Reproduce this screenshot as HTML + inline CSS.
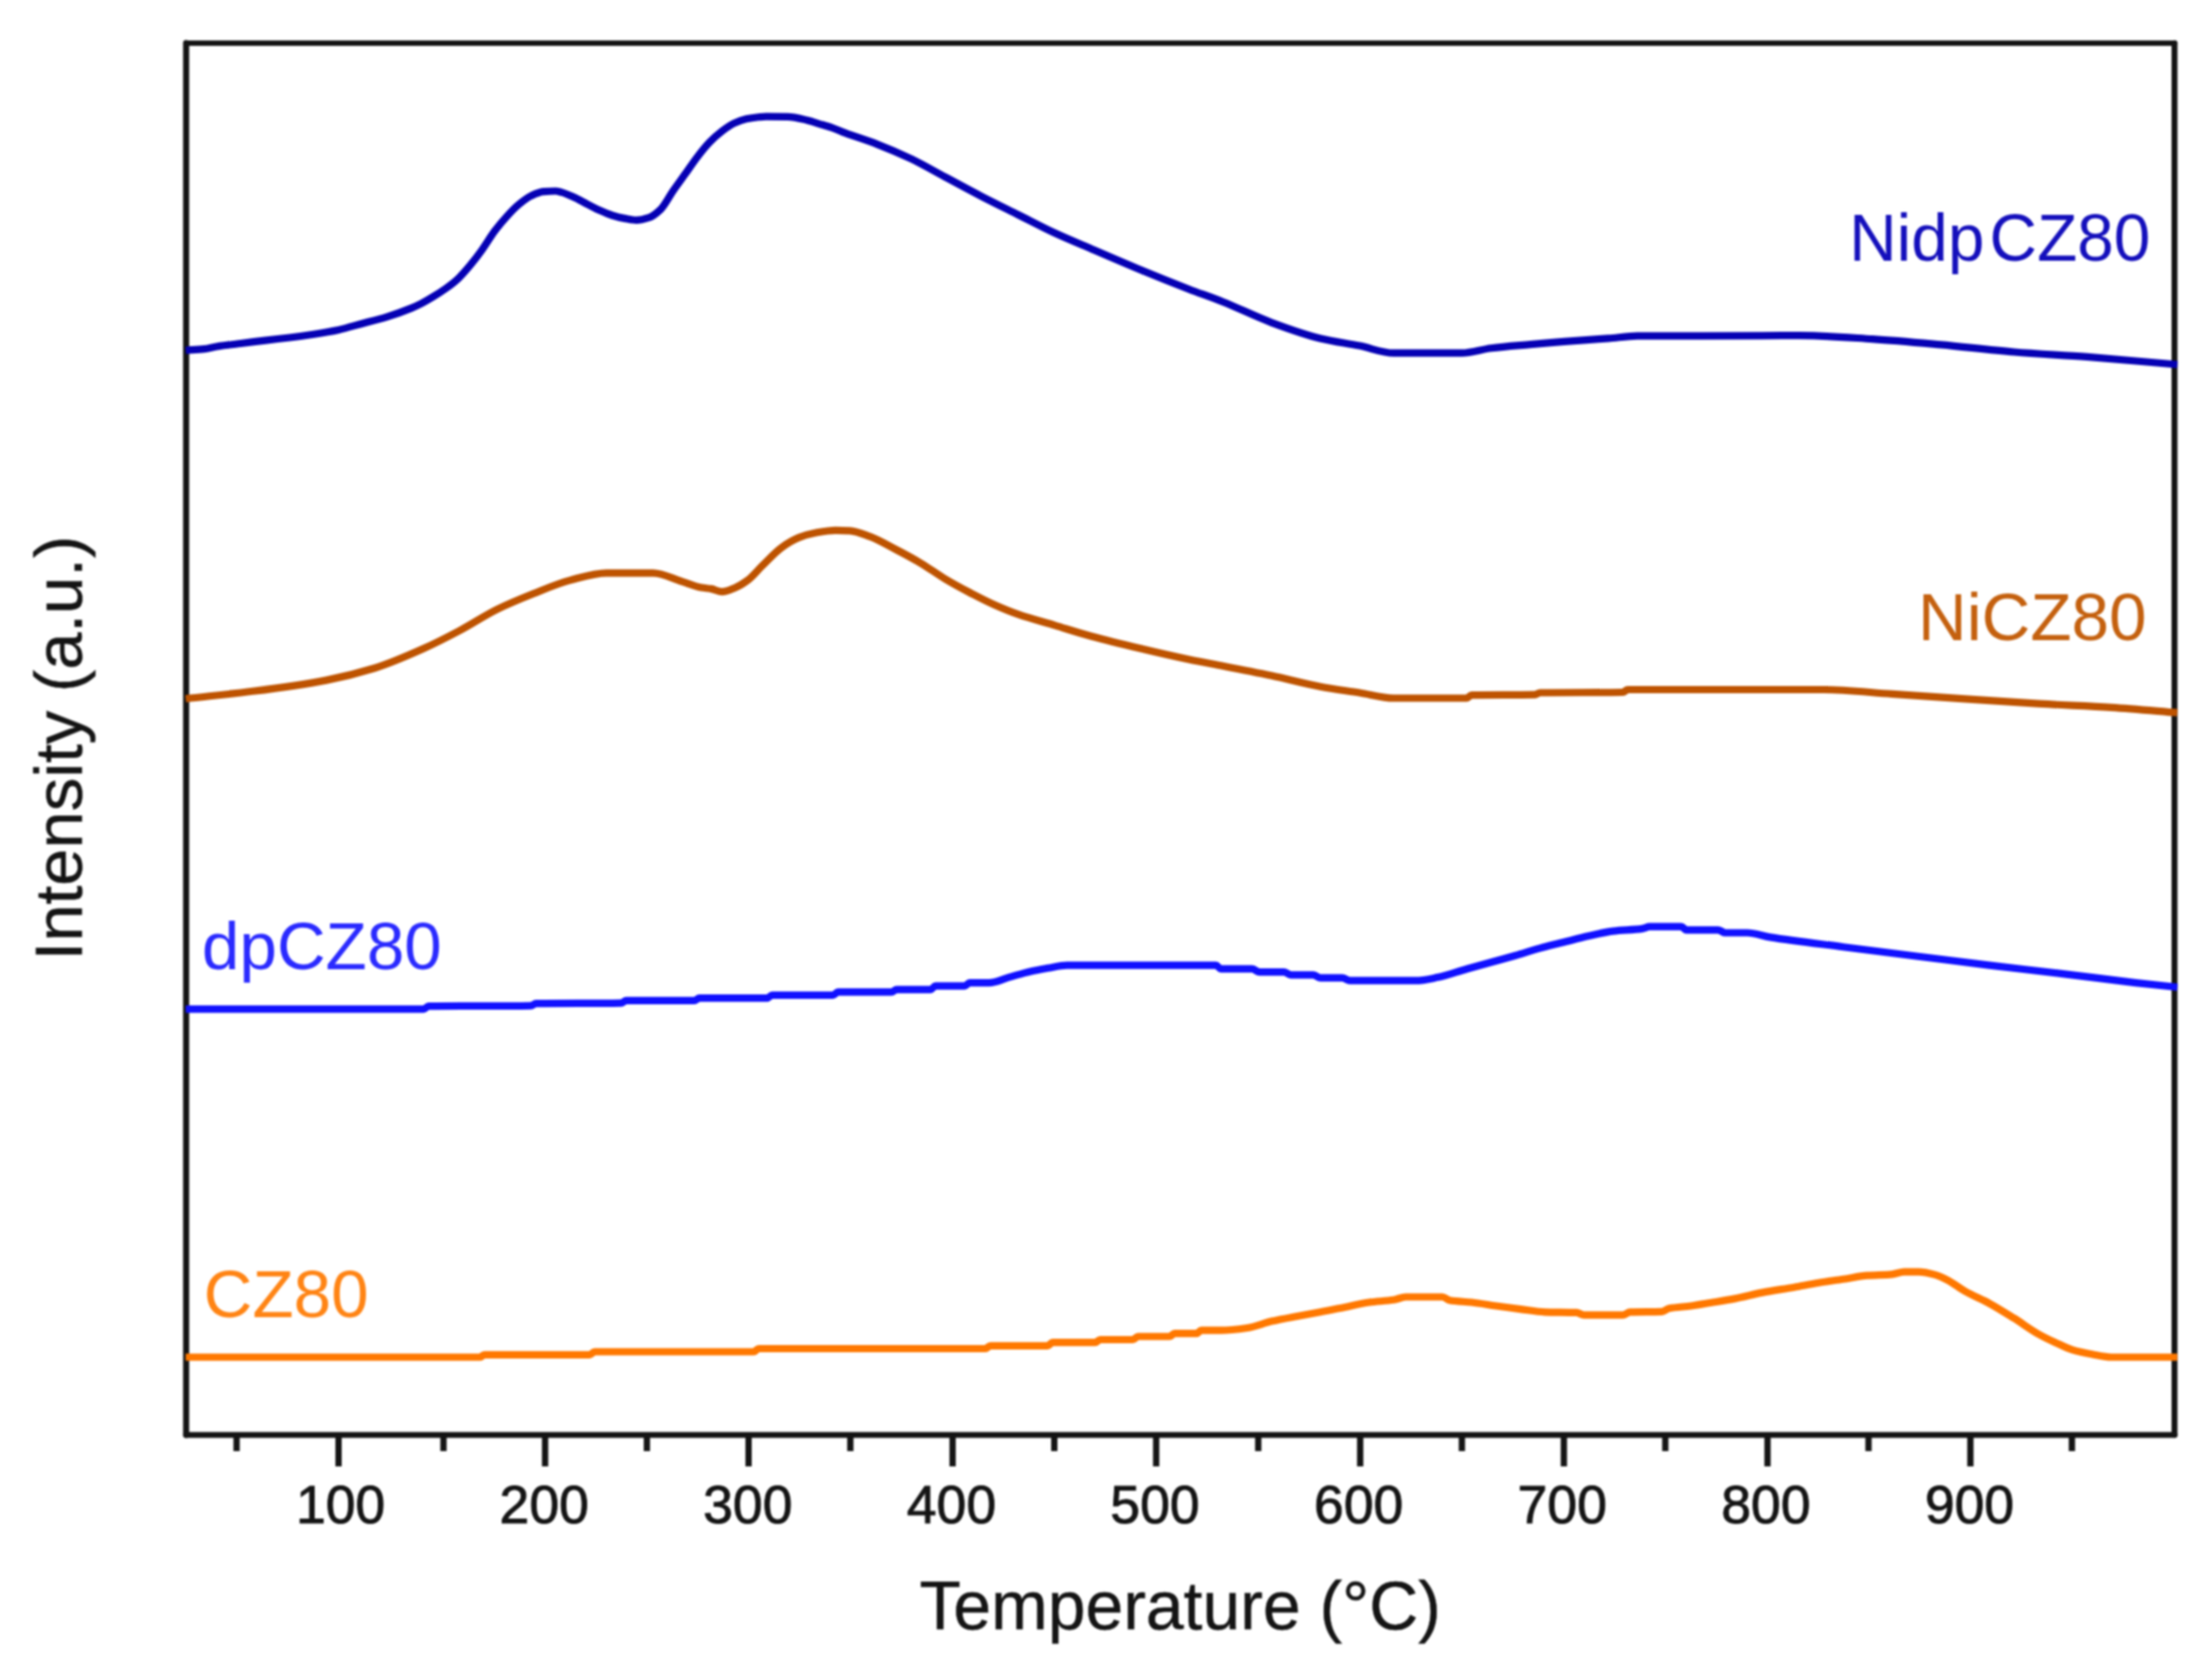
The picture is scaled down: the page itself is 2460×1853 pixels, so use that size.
<!DOCTYPE html>
<html lang="en">
<head>
<meta charset="utf-8">
<title>H2-TPR profiles</title>
<style>
html,body{margin:0;padding:0;background:#fff;}
body{width:2460px;height:1853px;overflow:hidden;}
svg{display:block;filter:blur(1.2px);}
text{font-family:"Liberation Sans",Arial,Helvetica,sans-serif;}
.tk{font-size:59.5px;fill:#141414;stroke:#141414;stroke-width:1px;text-anchor:middle;}
.ax{font-size:74px;fill:#141414;stroke:#141414;stroke-width:0.5px;text-anchor:middle;}
.lb{font-size:75px;}
</style>
</head>
<body>
<svg width="2460" height="1853" viewBox="0 0 2460 1853">
<rect x="0" y="0" width="2460" height="1853" fill="#ffffff"/>
<g stroke="#141414" fill="none" stroke-linecap="round">
<line x1="207" y1="48" x2="2418.3" y2="48" stroke-width="6.2"/>
<line x1="207" y1="48" x2="207" y2="1596" stroke-width="6.8"/>
<line x1="2418.3" y1="48" x2="2418.3" y2="1596" stroke-width="6.6"/>
<line x1="207" y1="1596" x2="2418.3" y2="1596" stroke-width="6.6"/>
</g>
<g fill="none" stroke-linejoin="round" stroke-linecap="butt" stroke-width="8.2">
<path stroke="#FF7800" d="M206.5,1509.5C315.5,1509.5 424.6,1509.5 533.6,1509.5C535.4,1509.5 537.2,1506.8 539.0,1506.8C577.9,1506.8 616.8,1506.8 655.7,1506.8C657.5,1506.8 659.3,1503.5 661.1,1503.5C720.2,1503.5 779.2,1503.5 838.3,1503.5C840.1,1503.5 841.9,1500.0 843.7,1500.0C927.8,1500.0 1011.9,1500.0 1096.0,1500.0C1097.8,1500.0 1099.6,1496.8 1101.4,1496.8C1122.6,1496.8 1143.9,1496.8 1165.1,1496.8C1166.9,1496.8 1168.8,1493.2 1170.6,1493.2C1186.4,1493.2 1202.2,1493.2 1218.0,1493.2C1219.8,1493.2 1221.6,1490.0 1223.4,1490.0C1235.6,1490.0 1247.8,1490.0 1260.0,1490.0C1261.8,1490.0 1263.7,1486.5 1265.5,1486.5C1277.2,1486.5 1289.0,1486.5 1300.7,1486.5C1302.5,1486.5 1304.4,1483.2 1306.2,1483.2C1314.3,1483.2 1322.5,1483.2 1330.6,1483.2C1332.4,1483.2 1334.2,1479.7 1336.0,1479.7C1343.2,1479.7 1350.5,1479.7 1357.7,1479.7C1367.5,1479.7 1377.3,1478.4 1387.1,1477.0C1396.1,1475.7 1405.2,1471.7 1414.2,1469.6C1423.3,1467.5 1432.3,1465.9 1441.4,1464.2C1450.4,1462.5 1459.5,1461.0 1468.5,1459.3C1477.5,1457.6 1486.6,1455.7 1495.6,1453.9C1504.6,1452.1 1513.7,1449.7 1522.7,1448.5C1531.8,1447.3 1540.8,1447.1 1549.9,1445.8C1554.4,1445.1 1558.9,1442.5 1563.4,1442.5C1577.0,1442.5 1590.5,1442.5 1604.1,1442.5C1606.8,1442.5 1609.5,1445.8 1612.2,1446.3C1620.3,1447.7 1628.5,1447.6 1636.6,1448.5C1645.7,1449.5 1654.7,1451.2 1663.8,1452.5C1672.8,1453.8 1681.9,1455.0 1690.9,1456.1C1699.9,1457.2 1709.0,1459.0 1718.0,1459.3C1729.8,1459.7 1741.5,1459.4 1753.3,1459.9C1756.0,1460.0 1758.7,1462.6 1761.4,1462.6C1775.9,1462.6 1790.3,1462.6 1804.8,1462.6C1807.5,1462.6 1810.2,1459.4 1812.9,1459.3C1824.7,1458.9 1836.4,1459.2 1848.2,1458.8C1850.9,1458.7 1853.6,1455.8 1856.3,1455.3C1864.4,1453.7 1872.6,1453.6 1880.7,1452.5C1887.9,1451.5 1895.2,1450.2 1902.4,1449.0C1911.5,1447.5 1920.5,1446.1 1929.6,1444.4C1939.7,1442.5 1949.9,1439.5 1960.0,1437.6C1971.9,1435.3 1983.7,1433.8 1995.6,1431.7C2004.6,1430.1 2013.7,1428.3 2022.7,1426.8C2031.8,1425.3 2040.8,1424.1 2049.9,1422.7C2058.9,1421.4 2068.0,1419.4 2077.0,1418.7C2086.0,1418.0 2095.1,1418.1 2104.1,1417.3C2108.6,1416.9 2113.2,1414.6 2117.7,1414.6C2123.1,1414.6 2128.5,1414.6 2133.9,1414.6C2140.2,1414.6 2146.6,1416.4 2152.9,1418.1C2157.4,1419.3 2162.0,1421.8 2166.5,1424.1C2172.8,1427.4 2179.2,1432.7 2185.5,1436.3C2194.5,1441.4 2203.6,1444.9 2212.6,1449.8C2221.6,1454.7 2230.7,1460.5 2239.7,1466.1C2248.7,1471.7 2257.8,1478.6 2266.8,1483.7C2273.1,1487.3 2279.5,1490.3 2285.8,1493.2C2292.1,1496.1 2298.5,1499.5 2304.8,1501.4C2312.0,1503.6 2319.3,1505.0 2326.5,1506.3C2333.7,1507.6 2341.0,1509.5 2348.2,1509.5C2372.6,1509.5 2397.1,1509.5 2421.5,1509.5"/>
<path stroke="#1010FF" d="M206.5,1122.4C294.7,1122.4 383.0,1122.4 471.2,1122.4C473.0,1122.4 474.8,1119.2 476.6,1119.2C514.6,1118.6 552.6,1119.2 590.6,1118.6C592.4,1118.6 594.2,1116.2 596.0,1116.2C627.6,1115.6 659.3,1116.2 690.9,1115.6C692.7,1115.6 694.5,1112.9 696.3,1112.9C721.6,1112.9 747.0,1112.9 772.3,1112.9C774.1,1112.9 775.9,1110.2 777.7,1110.2C802.9,1110.2 828.0,1110.2 853.2,1110.2C855.0,1110.2 856.9,1106.9 858.7,1106.9C881.3,1106.9 903.9,1106.9 926.5,1106.9C928.3,1106.9 930.1,1103.4 931.9,1103.4C951.8,1103.4 971.7,1103.4 991.6,1103.4C993.4,1103.4 995.2,1100.7 997.0,1100.7C1009.7,1100.7 1022.3,1100.7 1035.0,1100.7C1036.8,1100.7 1038.6,1096.6 1040.4,1096.6C1051.2,1096.6 1062.1,1096.6 1072.9,1096.6C1074.7,1096.6 1076.5,1093.1 1078.3,1093.1C1085.5,1093.1 1092.8,1093.1 1100.0,1093.1C1107.2,1093.1 1114.5,1089.1 1121.7,1087.1C1129.8,1084.9 1138.0,1082.2 1146.1,1080.4C1152.4,1079.0 1158.8,1077.9 1165.1,1076.8C1172.3,1075.6 1179.6,1073.6 1186.8,1073.6C1242.0,1073.6 1297.1,1073.6 1352.3,1073.6C1354.1,1073.6 1355.9,1077.7 1357.7,1077.7C1369.3,1077.7 1380.9,1077.7 1392.5,1077.7C1395.2,1077.7 1398.0,1081.2 1400.7,1081.2C1409.7,1081.2 1418.8,1081.2 1427.8,1081.2C1430.5,1081.2 1433.2,1084.4 1435.9,1084.4C1444.1,1084.4 1452.2,1084.4 1460.4,1084.4C1463.1,1084.4 1465.8,1087.7 1468.5,1087.7C1476.6,1087.7 1484.8,1087.7 1492.9,1087.7C1495.6,1087.7 1498.3,1090.7 1501.0,1090.7C1525.4,1090.7 1549.9,1090.7 1574.3,1090.7C1582.4,1090.7 1590.6,1088.7 1598.7,1087.1C1609.5,1085.0 1620.4,1080.7 1631.2,1077.7C1640.2,1075.2 1649.3,1072.8 1658.3,1070.3C1667.4,1067.8 1676.4,1065.3 1685.5,1062.7C1694.5,1060.1 1703.6,1057.1 1712.6,1054.6C1721.6,1052.1 1730.7,1050.1 1739.7,1047.8C1748.7,1045.5 1757.8,1043.0 1766.8,1041.0C1775.9,1039.0 1784.9,1036.7 1794.0,1035.6C1804.8,1034.3 1815.7,1034.4 1826.5,1032.9C1829.2,1032.5 1831.9,1030.7 1834.6,1030.7C1846.4,1030.7 1858.1,1030.7 1869.9,1030.7C1871.7,1030.7 1873.5,1034.3 1875.3,1034.3C1887.1,1034.3 1898.8,1034.3 1910.6,1034.3C1913.3,1034.3 1916.0,1037.5 1918.7,1037.5C1926.8,1037.5 1935.0,1037.5 1943.1,1037.5C1951.6,1037.5 1960.0,1041.0 1968.5,1042.4C1995.6,1046.8 2022.8,1049.7 2049.9,1053.2C2077.0,1056.7 2104.1,1060.1 2131.2,1063.5C2158.3,1066.9 2185.5,1070.3 2212.6,1073.6C2239.7,1076.9 2266.9,1079.9 2294.0,1083.1C2321.1,1086.3 2348.2,1090.0 2375.3,1093.1C2390.7,1094.8 2406.1,1096.4 2421.5,1098.0"/>
<path stroke="#BE5300" d="M206.5,777.1C231.5,774.3 256.4,772.0 281.4,768.8C308.5,765.4 335.6,761.8 362.7,756.6C380.8,753.1 398.9,748.6 417.0,743.0C435.1,737.4 453.1,729.4 471.2,721.3C484.8,715.2 498.3,708.2 511.9,701.0C525.5,693.8 539.0,684.6 552.6,677.9C566.2,671.2 579.7,665.7 593.3,660.3C606.9,654.9 620.4,648.9 634.0,645.4C647.5,641.9 661.1,637.3 674.6,637.3C691.8,637.3 709.0,637.3 726.2,637.3C737.0,637.3 747.9,643.5 758.7,646.8C765.8,649.0 772.9,652.3 780.0,653.5C783.6,654.1 787.2,654.3 790.8,654.9C794.9,655.6 798.9,658.2 803.0,658.2C808.0,658.2 813.0,655.6 818.0,653.5C822.5,651.6 827.0,648.7 831.5,645.4C836.9,641.4 842.4,634.4 847.8,629.1C855.0,622.1 862.3,613.9 869.5,608.8C875.8,604.3 882.2,600.3 888.5,597.9C894.8,595.5 901.2,593.6 907.5,592.5C914.7,591.2 922.0,589.8 929.2,589.8C934.6,589.8 940.0,590.0 945.4,590.3C952.6,590.7 959.9,594.0 967.1,596.6C977.1,600.2 987.0,606.3 997.0,611.5C1006.0,616.2 1015.1,621.0 1024.1,626.4C1033.1,631.8 1042.2,638.6 1051.2,644.0C1060.2,649.4 1069.3,654.3 1078.3,659.0C1087.4,663.7 1096.4,668.5 1105.5,672.5C1114.5,676.5 1123.6,680.3 1132.6,683.4C1146.2,688.1 1159.7,691.5 1173.3,695.6C1186.9,699.7 1200.4,704.1 1214.0,707.8C1232.1,712.7 1250.1,717.0 1268.2,721.3C1286.3,725.6 1304.3,729.8 1322.4,733.5C1334.9,736.1 1347.5,738.3 1360.0,740.7C1378.1,744.2 1396.1,747.7 1414.2,751.5C1432.3,755.3 1450.4,760.4 1468.5,763.7C1483.0,766.4 1497.4,768.2 1511.9,770.5C1524.6,772.5 1537.2,776.5 1549.9,776.5C1577.0,776.5 1604.1,776.5 1631.2,776.5C1633.0,776.5 1634.8,773.2 1636.6,773.2C1660.1,772.7 1683.7,773.2 1707.2,772.7C1709.0,772.7 1710.8,770.5 1712.6,770.5C1743.3,770.0 1774.1,770.5 1804.8,770.0C1806.6,770.0 1808.4,767.0 1810.2,767.0C1882.9,767.0 1955.5,767.0 2028.2,767.0C2053.5,767.0 2078.8,770.2 2104.1,771.9C2131.2,773.7 2158.4,775.5 2185.5,777.3C2212.6,779.1 2239.7,781.1 2266.8,782.7C2293.9,784.3 2321.1,785.1 2348.2,786.8C2372.6,788.3 2397.1,790.7 2421.5,792.7"/>
<path stroke="#0500B4" d="M206.5,389.6C213.4,389.1 220.2,388.8 227.1,388.1C231.6,387.6 236.2,386.2 240.7,385.5C249.7,384.1 258.8,383.1 267.8,382.0C276.9,380.8 285.9,379.7 295.0,378.6C304.0,377.5 313.1,376.6 322.1,375.5C331.1,374.4 340.2,373.1 349.2,371.7C358.2,370.3 367.3,368.8 376.3,366.9C385.3,365.0 394.4,362.1 403.4,359.7C412.5,357.3 421.5,355.1 430.6,352.3C439.6,349.5 448.7,346.3 457.7,342.6C461.3,341.1 464.9,339.4 468.5,337.6C473.0,335.3 477.6,332.6 482.1,329.8C486.6,327.1 491.1,324.2 495.6,321.0C500.1,317.8 504.7,314.4 509.2,310.2C513.7,306.0 518.3,300.6 522.8,295.2C527.3,289.8 531.8,283.9 536.3,277.6C540.8,271.3 545.4,263.4 549.9,257.3C554.4,251.3 558.9,245.9 563.4,241.0C567.9,236.0 572.5,231.1 577.0,227.4C581.5,223.7 586.1,220.0 590.6,217.9C595.1,215.8 599.6,213.6 604.1,213.2C608.6,212.8 613.2,212.5 617.7,212.5C620.0,212.5 622.2,213.3 624.5,213.9C629.0,215.1 633.5,217.3 638.0,219.3C643.2,221.6 648.4,224.7 653.6,227.3C658.1,229.6 662.6,232.1 667.1,234.1C671.6,236.1 676.2,238.1 680.7,239.5C685.2,240.9 689.8,242.1 694.3,242.9C698.8,243.7 703.3,244.9 707.8,244.9C712.3,244.9 716.9,243.6 721.4,242.2C725.9,240.8 730.4,237.0 734.9,232.7C739.4,228.4 744.0,218.9 748.5,212.4C753.0,205.9 757.6,199.8 762.1,193.4C766.6,187.1 771.1,180.2 775.6,174.4C780.1,168.5 784.7,162.8 789.2,158.1C793.7,153.4 798.3,149.3 802.8,145.9C807.3,142.5 811.8,139.2 816.3,137.1C820.8,135.0 825.4,133.2 829.9,132.3C834.4,131.4 838.9,130.8 843.4,130.3C846.3,130.0 849.1,129.6 852.0,129.6C860.0,129.6 868.0,129.7 876.0,129.8C883.2,129.9 890.5,132.0 897.7,133.7C902.2,134.7 906.8,136.4 911.3,137.8C915.8,139.1 920.3,140.3 924.8,141.8C929.9,143.5 934.9,146.0 940.0,147.9C951.8,152.3 963.5,155.8 975.3,160.3C988.0,165.2 1000.6,170.6 1013.3,176.6C1025.9,182.6 1038.6,190.1 1051.2,196.9C1064.8,204.2 1078.3,211.6 1091.9,218.6C1105.5,225.6 1119.0,232.2 1132.6,239.0C1146.2,245.8 1159.7,253.0 1173.3,259.3C1186.9,265.6 1200.4,271.1 1214.0,276.9C1232.1,284.7 1250.1,292.5 1268.2,300.0C1286.3,307.5 1304.3,314.7 1322.4,321.7C1334.9,326.5 1347.5,330.7 1360.0,335.7C1378.1,342.9 1396.1,352.1 1414.2,358.8C1432.3,365.5 1450.4,372.1 1468.5,376.4C1483.0,379.8 1497.4,381.7 1511.9,384.6C1524.6,387.1 1537.2,392.7 1549.9,392.7C1575.2,392.7 1600.5,392.7 1625.8,392.7C1636.6,392.7 1647.5,388.6 1658.3,387.3C1672.8,385.5 1687.2,384.5 1701.7,383.2C1714.4,382.1 1727.0,380.9 1739.7,379.9C1756.0,378.6 1772.2,377.7 1788.5,376.4C1799.3,375.6 1810.2,373.8 1821.0,373.7C1867.3,373.5 1913.7,373.6 1960.0,373.4C1973.7,373.3 1987.3,373.1 2001.0,373.1C2028.1,373.1 2055.3,375.4 2082.4,377.1C2107.7,378.7 2133.0,381.1 2158.3,383.4C2185.4,385.9 2212.6,389.3 2239.7,391.5C2266.8,393.7 2293.9,394.9 2321.0,396.9C2339.1,398.3 2357.2,399.9 2375.3,401.5C2390.7,402.8 2406.1,404.2 2421.5,405.5"/>
</g>
<g stroke="#141414" stroke-width="7" stroke-linecap="butt">
<line x1="376.5" y1="1596" x2="376.5" y2="1631"/>
<line x1="606.2" y1="1596" x2="606.2" y2="1631"/>
<line x1="832.5" y1="1596" x2="832.5" y2="1631"/>
<line x1="1059.4" y1="1596" x2="1059.4" y2="1631"/>
<line x1="1285.8" y1="1596" x2="1285.8" y2="1631"/>
<line x1="1512.7" y1="1596" x2="1512.7" y2="1631"/>
<line x1="1739.2" y1="1596" x2="1739.2" y2="1631"/>
<line x1="1965.7" y1="1596" x2="1965.7" y2="1631"/>
<line x1="2191.3" y1="1596" x2="2191.3" y2="1631"/>
<line x1="263.1" y1="1596" x2="263.1" y2="1614"/>
<line x1="493.2" y1="1596" x2="493.2" y2="1614"/>
<line x1="719.4" y1="1596" x2="719.4" y2="1614"/>
<line x1="945.7" y1="1596" x2="945.7" y2="1614"/>
<line x1="1172.5" y1="1596" x2="1172.5" y2="1614"/>
<line x1="1399.3" y1="1596" x2="1399.3" y2="1614"/>
<line x1="1625.8" y1="1596" x2="1625.8" y2="1614"/>
<line x1="1852.0" y1="1596" x2="1852.0" y2="1614"/>
<line x1="2078.0" y1="1596" x2="2078.0" y2="1614"/>
<line x1="2304.2" y1="1596" x2="2304.2" y2="1614"/>
</g>
<g class="tk">
<text x="378.8" y="1693.6">100</text>
<text x="605.2" y="1693.6">200</text>
<text x="831.6" y="1693.6">300</text>
<text x="1058.1" y="1693.6">400</text>
<text x="1284.5" y="1693.6">500</text>
<text x="1511.0" y="1693.6">600</text>
<text x="1737.4" y="1693.6">700</text>
<text x="1963.9" y="1693.6">800</text>
<text x="2190.3" y="1693.6">900</text>
</g>
<text class="ax" style="font-size:75.5px" x="1312.5" y="1812.3">Temperature (°C)</text>
<text class="ax" style="font-size:74.5px" transform="translate(90.6,832) rotate(-90)">Intensity (a.u.)</text>
<text class="lb" style="font-size:73.2px" x="2056.5" y="289.7" fill="#140FBC">Nidp<tspan dx="5.5">CZ80</tspan></text>
<text class="lb" x="2133" y="712.3" fill="#C4600E">NiCZ80</text>
<text class="lb" x="224.5" y="1077.5" fill="#2A2AFF">dpCZ80</text>
<text class="lb" x="226.5" y="1464.8" fill="#FF8414">CZ80</text>
</svg>
</body>
</html>
